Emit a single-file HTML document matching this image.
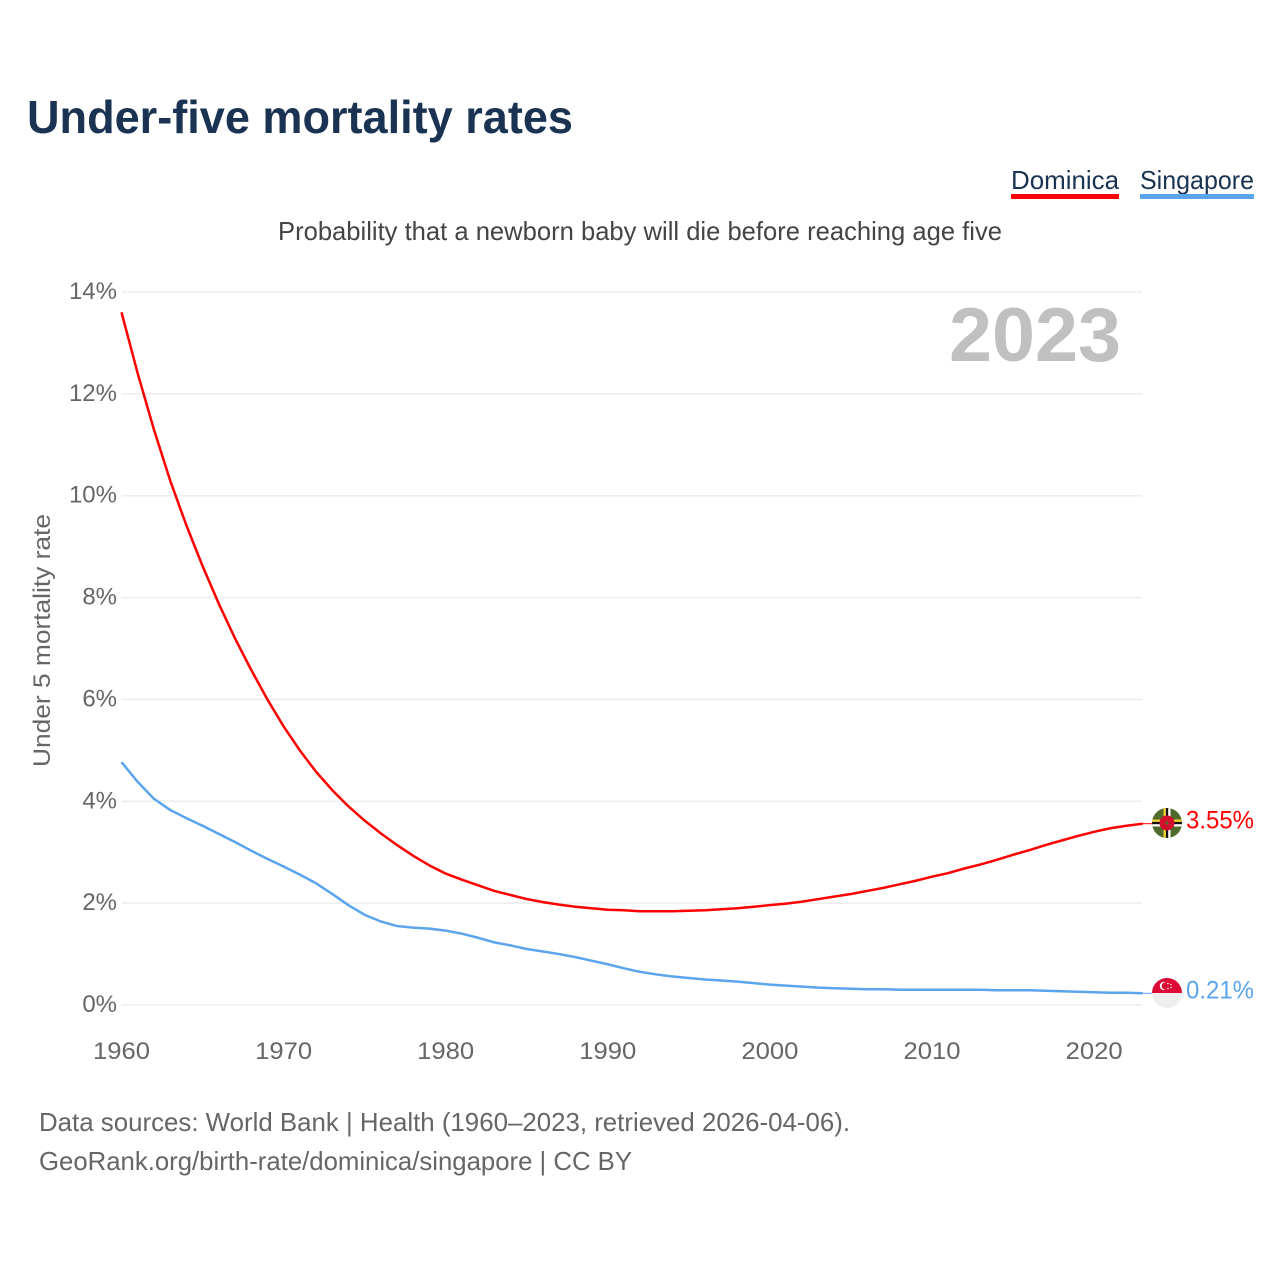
<!DOCTYPE html>
<html lang="en">
<head>
<meta charset="utf-8">
<title>Under-five mortality rates</title>
<style>
html,body{margin:0;padding:0;background:#fff;}
svg{display:block;font-family:"Liberation Sans",sans-serif;}
</style>
</head>
<body>
<svg id="chart" width="1280" height="1280" viewBox="0 0 1280 1280" xmlns="http://www.w3.org/2000/svg">
  <defs>
    <clipPath id="flag-clip-a"><circle cx="1167" cy="823" r="15"/></clipPath>
    <clipPath id="flag-clip-b"><circle cx="1167" cy="993" r="15"/></clipPath>
  </defs>
  <text x="27" y="133" font-size="46" font-weight="700" fill="#1a3352" textLength="546" lengthAdjust="spacingAndGlyphs">Under-five mortality rates</text>
  <g>
    <text x="1011" y="189" font-size="26" fill="#1a3352" textLength="108" lengthAdjust="spacingAndGlyphs">Dominica</text>
    <rect x="1011" y="194" width="108" height="5" fill="#ff0000"/>
  </g>
  <g>
    <text x="1140" y="189" font-size="26" fill="#1a3352" textLength="114" lengthAdjust="spacingAndGlyphs">Singapore</text>
    <rect x="1140" y="194" width="114" height="5" fill="#5ba4ee"/>
  </g>
  <text x="278" y="240" font-size="26" fill="#444444" textLength="724" lengthAdjust="spacingAndGlyphs">Probability that a newborn baby will die before reaching age five</text>
  <g id="grid"></g>
  <g id="yticks"></g>
  <g id="xticks"></g>
  <text transform="translate(50,767) rotate(-90)" font-size="24.5" fill="#666666" textLength="253" lengthAdjust="spacingAndGlyphs">Under 5 mortality rate</text>
  <text x="1121" y="361" font-size="76" font-weight="700" fill="#c0c0c0" text-anchor="end" textLength="172" lengthAdjust="spacingAndGlyphs">2023</text>
  <g id="series"></g>
  <g id="flag-dominica" clip-path="url(#flag-clip-a)">
    <rect x="1152" y="808" width="30" height="30" fill="#4f6b2c"/>
    <rect x="1163.5" y="808" width="7" height="30" fill="#ffffff"/>
    <rect x="1163.5" y="808" width="2.4" height="30" fill="#f3d02f"/>
    <rect x="1165.9" y="808" width="2.3" height="30" fill="#111111"/>
    <rect x="1152" y="819.5" width="30" height="7" fill="#ffffff"/>
    <rect x="1152" y="819.5" width="30" height="2.4" fill="#f3d02f"/>
    <rect x="1152" y="821.9" width="30" height="2.3" fill="#111111"/>
    <circle cx="1167" cy="823" r="7.5" fill="#d2102e"/>
    <circle cx="1167" cy="823" r="1.6" fill="#4f6b2c"/>
  </g>
  <g id="flag-singapore" clip-path="url(#flag-clip-b)">
    <rect x="1152" y="978" width="30" height="30" fill="#eeeeee"/>
    <rect x="1152" y="978" width="30" height="15" fill="#dd0a35"/>
    <circle cx="1164" cy="986" r="4.2" fill="#ffffff"/>
    <circle cx="1165.6" cy="986" r="3.9" fill="#dd0a35"/>
    <circle cx="1168" cy="983.5" r="0.8" fill="#ffffff"/>
    <circle cx="1171" cy="984.5" r="0.8" fill="#ffffff"/>
    <circle cx="1171" cy="987.5" r="0.8" fill="#ffffff"/>
    <circle cx="1168" cy="988.5" r="0.8" fill="#ffffff"/>
  </g>
  <g id="endlabels"></g>
  <text x="39" y="1131" font-size="26" fill="#666666" textLength="811" lengthAdjust="spacingAndGlyphs">Data sources: World Bank | Health (1960–2023, retrieved 2026-04-06).</text>
  <text x="39" y="1170" font-size="26" fill="#666666" textLength="593" lengthAdjust="spacingAndGlyphs">GeoRank.org/birth-rate/dominica/singapore | CC BY</text>
</svg>
<script>
const startYear = 1960;
const yTickValues = [0, 2, 4, 6, 8, 10, 12, 14];
const xTickValues = [1960, 1970, 1980, 1990, 2000, 2010, 2020];
const dominicaValues = [13.6,12.4,11.3,10.3,9.42,8.62,7.88,7.2,6.58,6.0,5.47,5.0,4.58,4.22,3.9,3.62,3.37,3.14,2.93,2.74,2.58,2.46,2.35,2.24,2.16,2.08,2.02,1.97,1.93,1.9,1.87,1.86,1.84,1.84,1.84,1.85,1.86,1.88,1.9,1.93,1.96,1.99,2.03,2.08,2.13,2.18,2.24,2.3,2.37,2.44,2.52,2.59,2.68,2.76,2.85,2.95,3.04,3.14,3.23,3.32,3.4,3.47,3.52,3.56];
const singaporeValues = [4.77,4.38,4.05,3.83,3.67,3.52,3.36,3.2,3.03,2.87,2.72,2.56,2.39,2.18,1.96,1.77,1.64,1.55,1.52,1.5,1.46,1.4,1.32,1.23,1.17,1.1,1.05,1.0,0.94,0.87,0.8,0.72,0.65,0.6,0.56,0.53,0.5,0.48,0.46,0.43,0.4,0.38,0.36,0.34,0.33,0.32,0.31,0.31,0.3,0.3,0.3,0.3,0.3,0.3,0.29,0.29,0.29,0.28,0.27,0.26,0.25,0.24,0.24,0.23];
const dominicaLabel = "3.55%";
const singaporeLabel = "0.21%";

const NS = "http://www.w3.org/2000/svg";
function xScale(year) { return 121.5 + (year - 1960) * 16.21; }
function yScale(v) { return 1005 - v * 50.93; }
function make(tag, attrs, parent, text) {
  const el = document.createElementNS(NS, tag);
  for (const k in attrs) el.setAttribute(k, attrs[k]);
  if (text !== undefined) el.textContent = text;
  parent.appendChild(el);
  return el;
}
const gridG = document.getElementById("grid");
const yG = document.getElementById("yticks");
const xG = document.getElementById("xticks");
const seriesG = document.getElementById("series");
const labelG = document.getElementById("endlabels");

yTickValues.forEach(function (v) {
  const line = make("line", {x1: 121.5, x2: 1142, y1: yScale(v), y2: yScale(v), stroke: "#eeeeee", "stroke-width": 1.6}, gridG);
  
  
  const label = make("text", {x: 117, y: yScale(v) + 7, "font-size": 24, fill: "#666666", "text-anchor": "end"}, yG, v + "%");
  
  
});
xTickValues.forEach(function (y) {
  const label = make("text", {x: xScale(y), y: 1059, "font-size": 24, fill: "#666666", "text-anchor": "middle", textLength: 57, lengthAdjust: "spacingAndGlyphs"}, xG, String(y));
  
  
});
function drawSeries(values, color, name, labelText) {
  const pts = values.map(function (v, i) { return xScale(startYear + i).toFixed(2) + "," + yScale(v).toFixed(2); }).join(" ");
  const line = make("polyline", {points: pts, fill: "none", stroke: color, "stroke-width": 2.5, "stroke-linejoin": "round"}, seriesG);
  
  
  const lastV = values[values.length - 1];
  const lastX = xScale(startYear + values.length - 1);
  const leader = make("line", {x1: lastX, x2: 1152, y1: yScale(lastV), y2: yScale(lastV), stroke: color, "stroke-width": 1}, seriesG);
  
  
  const label = make("text", {x: 1254, y: yScale(lastV) + 5, "font-size": 25, fill: color, "text-anchor": "end", textLength: 68, lengthAdjust: "spacingAndGlyphs"}, labelG, labelText);
  
  
}
drawSeries(dominicaValues, "#ff0000", "dominica", dominicaLabel);
drawSeries(singaporeValues, "#5ba4ee", "singapore", singaporeLabel);
</script>
</body>
</html>
